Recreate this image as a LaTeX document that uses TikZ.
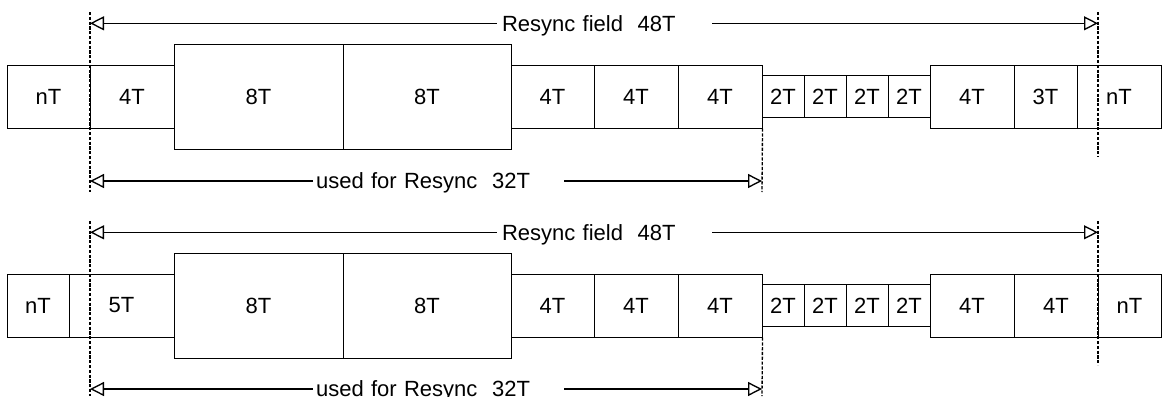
\documentclass[tikz,border=0pt]{standalone}
\usepackage{fontspec}
\setmainfont{Liberation Sans}
\usetikzlibrary{arrows.meta, positioning}

\tikzset{
  field/.style={draw, line width=0.75pt, inner sep=0pt, font=\fontsize{16.5}{19.8}\selectfont},
  lo/.style={field, minimum height=47.25pt},
  hi/.style={field, minimum height=78.75pt},
  mini/.style={field, minimum height=31.2pt},
  dimline/.style={line width=1pt, -{Triangle[open, length=10.5pt, width=10.5pt]}},
  guide/.style={line width=1pt, dash pattern=on 2.4pt off 1.2pt},
  dimlabel/.style={font=\fontsize{16.5}{19.8}\selectfont, align=left, text depth=0pt, inner ysep=0pt}
}

\begin{document}
\begin{tikzpicture}[x=0.75pt, y=-0.75pt]
  \useasboundingbox (0,0) rectangle (1162,396);

  %% Row 1 fields
  \foreach \nm/\xa/\xb/\kind/\lab in {
    a1/7/90/lo/nT, a2/90/174/lo/4T, a3/174/343/hi/8T, a4/343/511/hi/8T,
    a5/511/594/lo/4T, a6/594/678/lo/4T, a7/678/762/lo/4T,
    a8/762/804/mini/2T, a9/804/846/mini/2T, a10/846/888/mini/2T, a11/888/930/mini/2T,
    a12/930/1014/lo/4T, a13/1014/1077/lo/3T, a14/1077/1161/lo/nT
  }{
    \node[\kind, minimum width={(\xb-\xa)*0.75pt}] (\nm) at ({(\xa+\xb)/2},96.5) {\lab};
  }

  %% Row 2 fields
  \foreach \nm/\xa/\xb/\kind/\lab in {
    b1/7/69/lo/nT, b2/69/174/lo/5T, b3/174/343/hi/8T, b4/343/511/hi/8T,
    b5/511/594/lo/4T, b6/594/678/lo/4T, b7/678/762/lo/4T,
    b8/762/804/mini/2T, b9/804/846/mini/2T, b10/846/888/mini/2T, b11/888/930/mini/2T,
    b12/930/1014/lo/4T, b13/1014/1098/lo/4T, b14/1098/1161/lo/nT
  }{
    \node[\kind, minimum width={(\xb-\xa)*0.75pt}] (\nm) at ({(\xa+\xb)/2},305.5) {\lab};
  }

  %% Row 1 guides and spans
  \coordinate (ga1) at (90,12);    \coordinate (ga2) at (90,192);
  \coordinate (ga3) at (762,192);
  \coordinate (ga4) at (1098,12);  \coordinate (ga5) at (1098,157);
  \draw[guide] (ga1) -- (ga2);
  \draw[guide] (a7.south east) -- (ga3);
  \draw[guide] (ga4) -- (ga5);

  \coordinate (fa1) at (90,23.3);  \coordinate (fa2) at (1098,23.3);
  \node[dimlabel, text width=153.75pt, inner xsep=3.75pt] (fieldA) at (604.5,23.3) {Resync field\ \ 48T};
  \draw[dimline] (fieldA.west) -- (fa1);
  \draw[dimline] (fieldA.east) -- (fa2);

  \coordinate (ua1) at (90,181);   \coordinate (ua2) at (762,181);
  \node[dimlabel, text width=184pt, inner xsep=2pt] (usedA) at (438.7,181) {used for Resync\ \ 32T};
  \draw[dimline] (usedA.west) -- (ua1);
  \draw[dimline] (usedA.east) -- (ua2);

  %% Row 2 guides and spans
  \coordinate (gb1) at (90,221);   \coordinate (gb2) at (90,396);
  \coordinate (gb3) at (762,396);
  \coordinate (gb4) at (1098,221); \coordinate (gb5) at (1098,365);
  \draw[guide] (gb1) -- (gb2);
  \draw[guide] (b7.south east) -- (gb3);
  \draw[guide] (gb4) -- (gb5);

  \coordinate (fb1) at (90,232.3); \coordinate (fb2) at (1098,232.3);
  \node[dimlabel, text width=153.75pt, inner xsep=3.75pt] (fieldB) at (604.5,232.3) {Resync field\ \ 48T};
  \draw[dimline] (fieldB.west) -- (fb1);
  \draw[dimline] (fieldB.east) -- (fb2);

  \coordinate (ub1) at (90,389); \coordinate (ub2) at (762,389);
  \node[dimlabel, text width=184pt, inner xsep=2pt] (usedB) at (438.7,389) {used for Resync\ \ 32T};
  \draw[dimline] (usedB.west) -- (ub1);
  \draw[dimline] (usedB.east) -- (ub2);

\end{tikzpicture}
\end{document}
